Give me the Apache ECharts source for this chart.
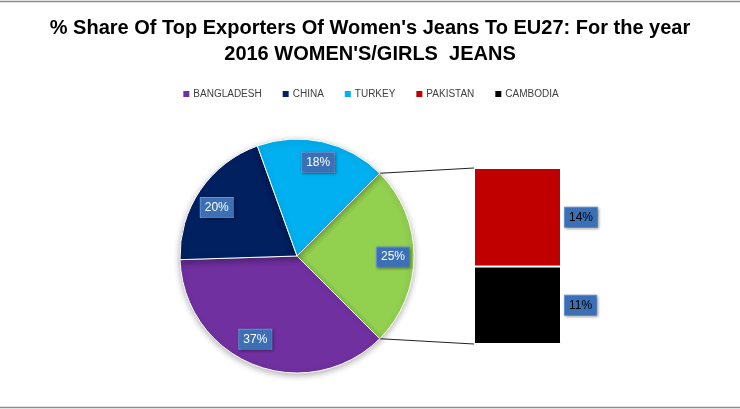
<!DOCTYPE html>
<html>
<head>
<meta charset="utf-8">
<script src="https://cdn.jsdelivr.net/npm/echarts@6/dist/echarts.min.js"></script>
<style>
html,body{margin:0;padding:0;background:#fff;}
#c{width:740px;height:409px;}
</style>
</head>
<body>
<div id="c"></div>
<script>
const titleLines = ["% Share Of Top Exporters Of Women's Jeans To EU27: For the year", "2016 WOMEN'S/GIRLS  JEANS"];
const pieCategories = ['BANGLADESH', 'CHINA', 'TURKEY'];
const pieValues = [37, 20, 18];
const barCategories = ['PAKISTAN', 'CAMBODIA'];
const barValues = [14, 11];
const otherName = 'Other';

const colors = {
  BANGLADESH: '#7030A0',
  CHINA: '#002060',
  TURKEY: '#00B0F0',
  PAKISTAN: '#C00000',
  CAMBODIA: '#000000',
  Other: '#92D050'
};

const otherValue = barValues.reduce((a, b) => a + b, 0);
const pieData = [{ name: otherName, value: otherValue }].concat(
  pieCategories.map((n, i) => ({ name: n, value: pieValues[i] }))
);
const total = pieData.reduce((a, d) => a + d.value, 0);

const CX = 297, CY = 256, R = 117, START = 45;

const labelBox = {
  backgroundColor: '#3b6fb6',
  borderColor: '#6a95d3',
  borderWidth: 1,
  padding: [4, 4, 3, 4],
  fontSize: 12,
  fontFamily: 'Liberation Sans, Arial, sans-serif',
  shadowColor: 'rgba(0,0,0,0.35)',
  shadowBlur: 3,
  shadowOffsetX: 1,
  shadowOffsetY: 1
};

// small label nudges (style only) to mimic the reference's best-fit placement
const labelNudge = { BANGLADESH: [-6, -7], CHINA: [0, 6], TURKEY: [0, 1], Other: [-1, 1] };

const chart = echarts.init(document.getElementById('c'));
chart.setOption({
  animation: false,
  backgroundColor: '#fff',
  title: {
    text: titleLines.join('\n'),
    left: 'center',
    top: 10,
    textStyle: {
      fontFamily: 'Liberation Sans, Arial, sans-serif',
      fontWeight: 'bold',
      fontSize: 20,
      lineHeight: 26,
      color: '#000'
    }
  },
  legend: {
    data: pieCategories.concat(barCategories),
    top: 84,
    left: 'center',
    icon: 'rect',
    itemWidth: 8,
    itemHeight: 8,
    itemGap: 19,
    textStyle: {
      fontFamily: 'Liberation Sans, Arial, sans-serif',
      fontSize: 10,
      color: '#404040',
      padding: [0, 0, 0, -2]
    },
    selectedMode: false
  },
  grid: { left: 474, top: 168, width: 87, height: 176 },
  xAxis: { type: 'category', data: [otherName], show: false },
  yAxis: { type: 'value', min: 0, max: otherValue, show: false },
  series: [
    {
      type: 'pie',
      name: 'main',
      center: [CX, CY],
      radius: [0, R],
      startAngle: START,
      clockwise: true,
      data: pieData.map(d => ({ name: d.name, value: d.value, itemStyle: { color: colors[d.name] } })),
      itemStyle: {
        borderColor: '#fff',
        borderWidth: 1,
        shadowColor: 'rgba(0,0,0,0.3)',
        shadowBlur: 6,
        shadowOffsetY: 2
      },
      label: { show: false },
      labelLine: { show: false },
      emphasis: { disabled: true },
      silent: true
    },
    {
      type: 'pie',
      name: 'labels',
      center: [CX, CY],
      radius: [0, 188],
      startAngle: START,
      clockwise: true,
      silent: true,
      z: 5,
      data: pieData.map(d => ({
        name: d.name, value: d.value,
        itemStyle: { color: 'rgba(0,0,0,0)' },
        label: { offset: labelNudge[d.name] || [0, 0] }
      })),
      itemStyle: { color: 'rgba(0,0,0,0)' },
      label: Object.assign({
        show: true,
        position: 'inside',
        color: '#fff',
        formatter: p => Math.round(p.value / total * 100) + '%'
      }, labelBox),
      labelLine: { show: false },
      emphasis: { disabled: true }
    },
    {
      type: 'bar',
      name: barCategories[1],
      stack: 'other',
      barWidth: '100%',
      data: [barValues[1]],
      itemStyle: { color: colors[barCategories[1]], borderColor: '#fff', borderWidth: 1 },
      label: Object.assign({ show: true, position: 'right', distance: 4, color: '#000',
        formatter: p => p.value + '%' }, labelBox),
      silent: true
    },
    {
      type: 'bar',
      name: barCategories[0],
      stack: 'other',
      barWidth: '100%',
      data: [barValues[0]],
      itemStyle: { color: colors[barCategories[0]], borderColor: '#fff', borderWidth: 1 },
      label: Object.assign({ show: true, position: 'right', distance: 4, color: '#000',
        formatter: p => p.value + '%' }, labelBox),
      silent: true
    }
  ]
});

// connector lines from the "Other" slice edges to the stacked bar corners
const otherAngle = otherValue / total * 360;
const a1 = START * Math.PI / 180;
const a2 = (START - otherAngle) * Math.PI / 180;
const p1 = [CX + R * Math.cos(a1), CY - R * Math.sin(a1)];
const p2 = [CX + R * Math.cos(a2), CY - R * Math.sin(a2)];
const barLeft = chart.getModel().getComponent('grid', 0).coordinateSystem.getRect().x;
const barTop = chart.convertToPixel({ yAxisIndex: 0 }, otherValue);
const barBottom = chart.convertToPixel({ yAxisIndex: 0 }, 0);
chart.setOption({
  graphic: [
    { type: 'line', z: 1, shape: { x1: p1[0], y1: p1[1], x2: barLeft, y2: barTop }, style: { stroke: '#222', lineWidth: 1 } },
    { type: 'line', z: 1, shape: { x1: p2[0], y1: p2[1], x2: barLeft, y2: barBottom }, style: { stroke: '#222', lineWidth: 1 } },
    { type: 'line', shape: { x1: 0, y1: 1.5, x2: 740, y2: 1.5 }, style: { stroke: '#8c8c8c', lineWidth: 1.5 } },
    { type: 'line', shape: { x1: 0, y1: 407.5, x2: 740, y2: 407.5 }, style: { stroke: '#8c8c8c', lineWidth: 1.5 } }
  ]
});
</script>
</body>
</html>
